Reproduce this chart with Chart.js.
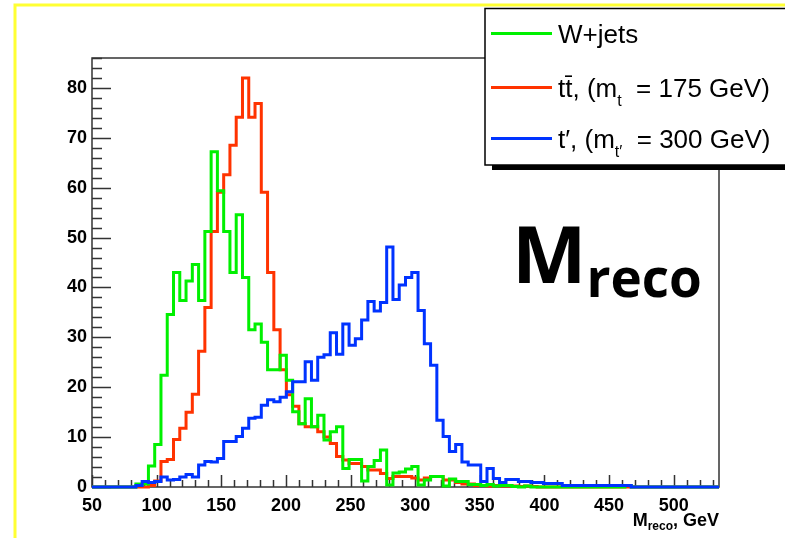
<!DOCTYPE html>
<html><head><meta charset="utf-8">
<script src="https://cdn.jsdelivr.net/npm/chart.js@4.4.1/dist/chart.umd.min.js"></script>
<style>html,body{margin:0;padding:0;background:#fff;overflow:hidden}canvas{display:block}</style>
</head><body>
<canvas id="c" width="785" height="538"></canvas>
<script>
// Histogram binning (100 bins from 50 to 535 GeV)
const binStart = 50;
const binWidth = 4.85;
const xMax = 535;

// W+jets
const wjets = [0,0,0,0,0,0,0,0.6,0.6,4.2, 8.5,22.4,34.6,43,37.4,41.3,44.6,37.4,51.2,67.2,
  59.4,51.2,43,54.6,42,31.5,32.7,29,23.5,23.5, 26.4,21.4,15.1,12.7,17.7,12.1,14.4,9.4,11.1,12.1,
  3.7,5.5,5.5,1.2,4.1,5.3,7.4,0.4,2.8,3.0, 3.6,4.1,0.4,1.4,2.1,2.1,0.2,1.6,1.1,1.1,
  0.5,0.5,0.3,0.5,0.2,0.3,0.3,0.1,0,0.2, 0,0,0,0,0,0,0,0,0,0,
  0,0,0,0,0,0.3,0,0,0,0, 0,0,0,0,0,0,0,0,0,0];
// ttbar, m_t = 175 GeV
const ttbar = [0,0,0,0,0,0,0,0,0,0.3, 1.2,5.1,5.5,9.5,11.8,15,18.6,27.2,36,51.2,
  59.1,62.6,68.5,74.1,82,74.1,76.9,59.1,43,31.5, 23.5,18.5,16.2,12.7,12.1,12.1,11.1,10,8.7,6.1,
  5.4,4.7,4.7,4.1,3.4,3.4,2.7,1.7,2.1,2.1, 2.1,1.8,1.4,1.8,2.1,2.1,1.4,1.4,0.9,0.6,
  0.6,0.3,0.3,0.2,0.3,0.2,0.2,0.2,0.1,0.2, 0.1,0,0,0,0,0,0,0,0,0,
  0,0,0,0,0,0,0,0,0,0, 0,0,0,0,0,0,0,0,0,0];
// t', m_t' = 300 GeV
const tprime = [0,0,0,0,0,0,0,0.3,1.1,0.9, 1.1,2.0,1.4,1.5,2.0,2.5,2.0,4.4,5.1,5.0,
  5.7,9.1,9.1,10.1,11.8,13.8,14.0,16.4,17.5,17.1, 18.0,19.1,21.1,21.1,25.1,21.4,26,26.5,30.9,26.6,
  32.7,28.4,29.7,33.5,37.2,35.3,37.0,48.1,37.6,40.5, 42,43,35.4,28.7,24.4,13.4,10.1,7.1,8.5,5.0,
  4.4,4.4,1.1,3.7,1.7,0.9,1.5,1.5,1.1,1.1, 0.9,0.9,0.7,0.7,0.7,0.3,0.3,0.3,0.3,0.3,
  0.3,0.3,0.3,0.3,0.3,0.3,0,0,0,0, 0,0,0,0,0,0,0,0,0,0];

const xTickValues = [50,100,150,200,250,300,350,400,450,500];
const yTickValues = [0,10,20,30,40,50,60,70,80];
const yMax = 86;

const GREEN = '#00f000', RED = '#ff3300', BLUE = '#0033ff';
const labelFont = "'Liberation Sans', Arial, sans-serif";

function histPoints(vals){
  const pts = vals.map((v,i)=>({x: binStart + i*binWidth, y: v}));
  pts.push({x: xMax, y: vals[vals.length-1]});
  return pts;
}

const framePlugin = {
  id: 'frame',
  beforeDatasetsDraw(chart){
    const {ctx, chartArea: a, scales: {x, y}} = chart;
    ctx.save();
    ctx.strokeStyle = '#333';
    ctx.lineWidth = 1.5;
    ctx.strokeRect(a.left, a.top, a.right - a.left, a.bottom - a.top);
    ctx.beginPath();
    for (let v = 0; v <= yMax; v += 2){
      const py = Math.round(y.getPixelForValue(v)) + 0.5;
      const len = (v % 10 === 0) ? 19 : 10;
      ctx.moveTo(a.left, py); ctx.lineTo(a.left + len, py);
    }
    for (let v = 50; v <= xMax; v += 10){
      const px = Math.round(x.getPixelForValue(v)) + 0.5;
      const len = (v % 50 === 0) ? 12 : 7;
      ctx.moveTo(px, a.bottom); ctx.lineTo(px, a.bottom - len);
    }
    ctx.stroke();
    ctx.restore();
  }
};

function drawSub(ctx, parts, x, y){
  let cx = x;
  for (const [t, f, dy] of parts){
    ctx.font = f;
    ctx.fillText(t, cx, y + dy);
    cx += ctx.measureText(t).width;
  }
  return cx;
}
function measureSub(ctx, parts){
  let w = 0;
  for (const [t, f] of parts){ ctx.font = f; w += ctx.measureText(t).width; }
  return w;
}

const decorPlugin = {
  id: 'decor',
  afterDraw(chart){
    const ctx = chart.ctx;
    ctx.save();
    // yellow frame
    ctx.strokeStyle = '#ffff33';
    ctx.lineWidth = 3;
    ctx.beginPath();
    ctx.moveTo(15, 540); ctx.lineTo(15, 5); ctx.lineTo(790, 5);
    ctx.stroke();

    // legend box
    ctx.fillStyle = '#000';
    ctx.fillRect(492, 165, 300, 5);
    ctx.fillStyle = '#fff';
    ctx.fillRect(485, 8.5, 310, 156.5);
    ctx.strokeStyle = '#000';
    ctx.lineWidth = 1.5;
    ctx.strokeRect(485, 8.5, 310, 156.5);

    const F = `26px ${labelFont}`, S = `16px ${labelFont}`;
    const rows = [
      {color: GREEN, y: 33.5, parts: [['W+jets', F, 0]]},
      {color: RED, y: 87.5, parts: [['t', F, 0], ['t\u0304', F, 0], [', (m', F, 0], ['t', S, 9], ['  = 175 GeV)', F, 0]]},
      {color: BLUE, y: 138.5, parts: [['t\u2032, (m', F, 0], ['t\u2032', S, 9], ['  = 300 GeV)', F, 0]]}
    ];
    ctx.lineWidth = 3;
    ctx.textBaseline = 'alphabetic';
    ctx.textAlign = 'left';
    for (const r of rows){
      ctx.strokeStyle = r.color;
      ctx.beginPath(); ctx.moveTo(491, r.y); ctx.lineTo(552, r.y); ctx.stroke();
      ctx.fillStyle = '#000';
      drawSub(ctx, r.parts, 558, r.y + 9);
    }

    // big M_reco
    ctx.fillStyle = '#000';
    drawSub(ctx, [['M', `bold 79px 'Open Sans', sans-serif`, 0], ['reco', `bold 53px 'Open Sans', sans-serif`, 14]], 512, 283);

    // axis title
    const tparts = [['M', `bold 18px ${labelFont}`, 0], ['reco', `bold 12px ${labelFont}`, 4], [', GeV', `bold 18px ${labelFont}`, 0]];
    const w = measureSub(ctx, tparts);
    drawSub(ctx, tparts, 719 - w, 526);
    ctx.restore();
  }
};

const commonLine = {fill: false, pointRadius: 0, borderWidth: 3, stepped: 'before', borderJoinStyle: 'miter', borderCapStyle: 'butt', clip: false};

new Chart(document.getElementById('c'), {
  type: 'line',
  data: {
    datasets: [
      Object.assign({label: "t'", data: histPoints(tprime), borderColor: BLUE, order: 0}, commonLine),
      Object.assign({label: 'W+jets', data: histPoints(wjets), borderColor: GREEN, order: 1}, commonLine),
      Object.assign({label: 'ttbar', data: histPoints(ttbar), borderColor: RED, order: 2}, commonLine)
    ]
  },
  options: {
    responsive: false, animation: false, devicePixelRatio: 1,
    layout: {padding: {left: 0, top: 58, right: 66, bottom: 0}},
    plugins: {legend: {display: false}, tooltip: {enabled: false}},
    scales: {
      x: {
        type: 'linear', min: binStart, max: xMax,
        afterFit(s){ s.height = 51; },
        afterBuildTicks(s){ s.ticks = xTickValues.map(v => ({value: v})); },
        grid: {display: false, drawTicks: false}, border: {display: false},
        ticks: {color: '#000', padding: 8, maxRotation: 0, autoSkip: false, font: {family: labelFont, size: 18, weight: 'bold'}}
      },
      y: {
        type: 'linear', min: 0, max: yMax,
        afterFit(s){ s.width = 92; },
        afterBuildTicks(s){ s.ticks = yTickValues.map(v => ({value: v})); },
        grid: {display: false, drawTicks: false}, border: {display: false},
        ticks: {color: '#000', padding: 5, autoSkip: false, font: {family: labelFont, size: 18, weight: 'bold'}}
      }
    }
  },
  plugins: [framePlugin, decorPlugin]
});
</script>
</body></html>
